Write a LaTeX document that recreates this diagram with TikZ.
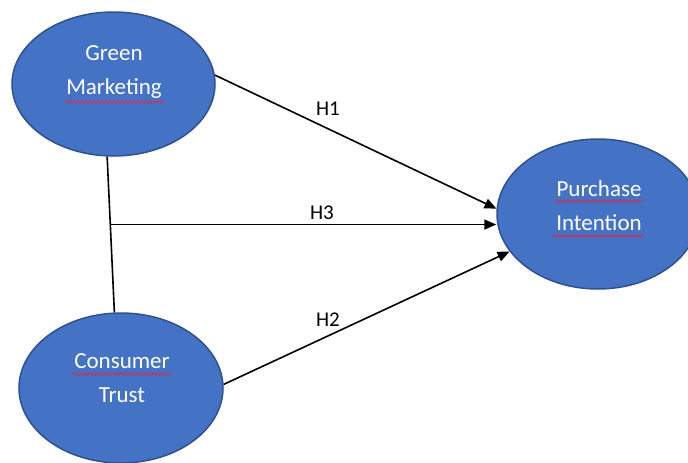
\documentclass[tikz,border=0pt]{standalone}
\usepackage{fontspec}
\setmainfont{Carlito}
\usetikzlibrary{shapes.geometric,arrows.meta,calc,decorations.pathmorphing}
\definecolor{bubfill}{HTML}{4472C4}
\definecolor{bubline}{HTML}{2F528F}
\definecolor{squig}{rgb}{0.80,0.20,0.35}
\tikzset{
  bubble/.style={ellipse,draw=bubline,fill=bubfill,line width=1.5pt,inner sep=0pt},
  bubtext/.style={text=white,align=center,font=\fontsize{23}{34}\selectfont,inner sep=0pt},
  hyp/.style={font=\fontsize{21}{24}\selectfont,inner sep=0pt},
  conn/.style={line width=1.6pt,draw=black},
  arr/.style={conn,-{Triangle[length=12pt,width=10pt]}},
  squiggle/.style={draw=squig,line width=0.9pt,decorate,decoration={snake,amplitude=1.3pt,segment length=4pt}}
}
\begin{document}
\begin{tikzpicture}[x=1pt,y=-1pt]
\useasboundingbox (0,0) rectangle (688,463);
\clip (0,0) rectangle (688,463);
\node[bubble,minimum width=203pt,minimum height=144pt] (gm) at (113.5,84) {};
\node[bubble,minimum width=204pt,minimum height=150pt] (ct) at (121,388) {};
\node[bubble,minimum width=202pt,minimum height=150pt] (pi) at (598,214) {};
\node[bubtext] (gmt) at (114,72) {Green\\Marketing};
\node[bubtext] (ctt) at (122,378) {Consumer\\Trust};
\node[bubtext] (pit) at (599,205.5) {Purchase\\Intention};
\draw[squiggle] (65,102) -- (164,102);
\draw[squiggle] (72,374) -- (172,374);
\draw[squiggle] (555,201) -- (643,201);
\draw[squiggle] (553,236) -- (644,236);
\draw[conn] (gm.265) -- (ct.95);
\coordinate (h3s) at ($(gm.265)!0.436!(ct.95)$);
\draw[arr] (gm.5) -- (pi.177);
\draw[arr] (h3s) -- (pi.west |- h3s);
\draw[arr] (ct.2) -- (pi.203);
\node[hyp] (h1) at (328,109) {H1};
\node[hyp] (h3) at (322,213) {H3};
\node[hyp] (h2) at (328,320) {H2};
\end{tikzpicture}
\end{document}
